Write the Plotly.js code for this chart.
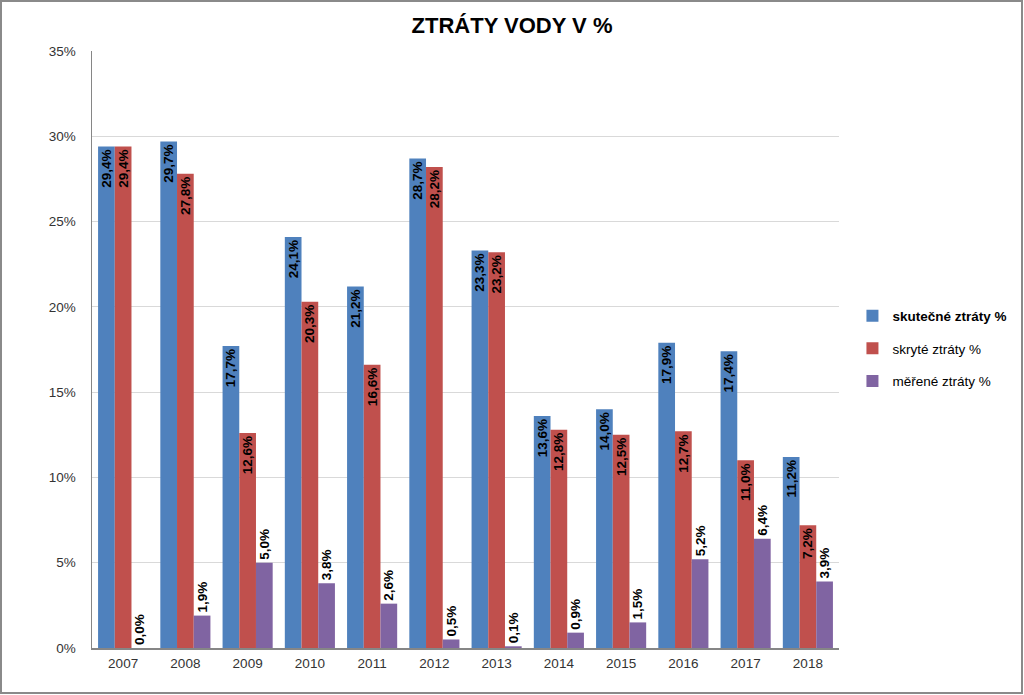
<!DOCTYPE html>
<html>
<head>
<meta charset="utf-8">
<script src="https://cdn.plot.ly/plotly-3.0.1.min.js"></script>
<style>
  html, body { margin: 0; padding: 0; background: #fff; }
  #wrap { position: relative; width: 1024px; height: 695px; }
  #chart { position: absolute; left: 0; top: 0; width: 1024px; height: 695px; }
  #frame { position: absolute; left: 0; top: 0; width: 1019px; height: 690px; border: 2px solid #8a8a8a; pointer-events: none; }
</style>
</head>
<body>
<div id="wrap">
  <div id="chart"></div>
  <div id="frame"></div>
</div>
<script>
const years = ['2007','2008','2009','2010','2011','2012','2013','2014','2015','2016','2017','2018'];
const skutecne = [29.4, 29.7, 17.7, 24.1, 21.2, 28.7, 23.3, 13.6, 14.0, 17.9, 17.4, 11.2];
const skryte   = [29.4, 27.8, 12.6, 20.3, 16.6, 28.2, 23.2, 12.8, 12.5, 12.7, 11.0, 7.2];
const merene   = [0.0, 1.9, 5.0, 3.8, 2.6, 0.5, 0.1, 0.9, 1.5, 5.2, 6.4, 3.9];
const seriesNames = ['<b>skutečné ztráty %</b>', 'skryté ztráty %', 'měřené ztráty %'];
const yTicks = [0, 5, 10, 15, 20, 25, 30, 35];

const fmt = v => v.toFixed(1).replace('.', ',') + '%';
const labelFont = { family: 'Liberation Sans, Arial, sans-serif', size: 13.5, color: '#000', weight: 'bold' };

function barTrace(vals, name, color, pos, group) {
  return {
    type: 'bar', x: years, y: vals, name: name, legendgroup: group,
    marker: { color: color },
    text: vals.map(fmt), textposition: pos, insidetextanchor: 'end',
    textangle: -90, textfont: labelFont, outsidetextfont: labelFont, insidetextfont: labelFont,
    constraintext: 'none', cliponaxis: false, hoverinfo: 'skip'
  };
}

const data = [
  barTrace(skutecne, seriesNames[0], '#4F81BD', 'inside', 'a'),
  barTrace(skryte, seriesNames[1], '#C0504D', 'inside', 'b'),
  barTrace(merene, seriesNames[2], '#8064A2', 'outside', 'c')
];

const layout = {
  width: 1024, height: 695,
  margin: { l: 92, r: 167, t: 51, b: 47 },
  paper_bgcolor: '#fff', plot_bgcolor: '#fff',
  barmode: 'group', bargap: 0.195, bargroupgap: 0,
  title: { text: '<b>ZTRÁTY VODY V %</b>', x: 0.5, xref: 'container', xanchor: 'center', y: 28, yref: 'container', yanchor: 'middle',
           font: { family: 'Liberation Sans, Arial, sans-serif', size: 22, color: '#000' } },
  font: { family: 'Liberation Sans, Arial, sans-serif', size: 13, color: '#333' },
  xaxis: {
    type: 'category', showline: true, linecolor: '#868686', linewidth: 1.5,
    ticks: '', tickfont: { size: 13.5, color: '#333' }, showgrid: false, ticklabelstandoff: 2
  },
  yaxis: {
    range: [0, 35], tickvals: yTicks, ticktext: yTicks.map(v => v + '%'),
    showline: true, linecolor: '#868686', linewidth: 1.5,
    showgrid: true, gridcolor: '#d9d9d9', gridwidth: 1, zeroline: false,
    ticks: '', ticklen: 0, tickfont: { size: 13.5, color: '#333' }, ticklabelstandoff: 12
  },
  showlegend: true,
  legend: {
    x: 1.018, y: 0.582, xanchor: 'left', yanchor: 'top',
    traceorder: 'grouped', tracegroupgap: 12,
    font: { size: 13.5, color: '#000' }, bgcolor: 'rgba(0,0,0,0)'
  }
};

Plotly.newPlot('chart', data, layout, { displayModeBar: false, staticPlot: true });
</script>
</body>
</html>
